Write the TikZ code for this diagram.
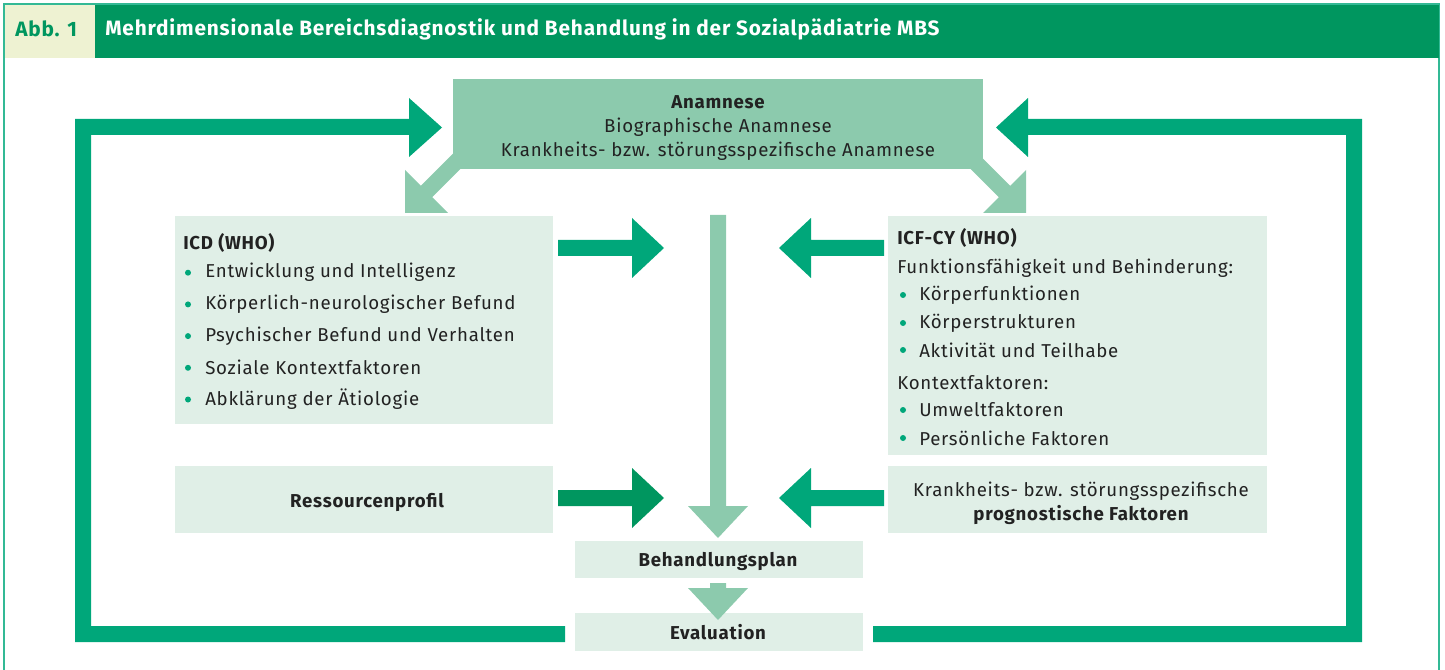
\documentclass[tikz,border=0pt]{standalone}
\usepackage{fontspec}
\setmainfont{Fira Sans}[LetterSpace=4]
\usepackage{xcolor}
\definecolor{mbsdark}{HTML}{00965F}
\definecolor{mbsgreen}{HTML}{00A77A}
\definecolor{mbslight}{HTML}{8CCAAD}
\definecolor{mbsbox}{HTML}{E0EFE7}
\definecolor{mbsabb}{HTML}{EEF2D2}
\definecolor{mbstext}{HTML}{222222}

\tikzset{
  box/.style={fill=mbsbox, inner sep=0pt, anchor=north west},
  txt/.style={inner sep=0pt, text=mbstext, font=\fontsize{14}{16}\selectfont},
  txtb/.style={txt, font=\fontsize{14}{16}\selectfont\bfseries},
  item/.style={txt, anchor=west},
  dot/.style={circle, fill=mbsgreen, inner sep=0pt, minimum size=4.5pt}
}

\begin{document}
\begin{tikzpicture}[x=0.75pt, y=-0.75pt]
  \useasboundingbox (0,0) rectangle (1445,670);

  % frame and title bar
  \draw[mbsgreen!80, line width=1.2pt] (4,670) -- (4,4) -- (1439,4) -- (1439,670);
  \fill[mbsdark] (5,5) rectangle (1439,58);
  \fill[mbsabb] (5,5) rectangle (95,58);
  \node[anchor=west, inner sep=0pt, text=mbsdark, font=\fontsize{15.6}{18}\selectfont\bfseries] (abb) at (15,29) {Abb. 1};
  \node[anchor=west, inner sep=0pt, text=white, font=\fontsize{15.6}{18}\selectfont\bfseries] (title) at (105,29)
    {Mehrdimensionale Bereichsdiagnostik und Behandlung in der Sozialpädiatrie MBS};

  % feedback loop, left
  \fill[mbsgreen] (565,642) -- (75,642) -- (75,119) -- (409,119) -- (409,98) -- (442,127.5)
    -- (409,157) -- (409,135) -- (91,135) -- (91,626) -- (565,626) -- cycle;
  % feedback loop, right
  \fill[mbsgreen] (873,642) -- (1362,642) -- (1362,119) -- (1028,119) -- (1028,98) -- (996,127.5)
    -- (1028,157) -- (1028,135) -- (1346,135) -- (1346,626) -- (873,626) -- cycle;

  % diagonal arrows out of the anamnesis
  \fill[mbslight] (405,213) -- (405,170) -- (420.8,185.8) -- (460.8,145.8) -- (472.2,157.2)
    -- (432.2,197.2) -- (448,213) -- cycle;
  \fill[mbslight] (1026,213) -- (1026,170) -- (1010.2,185.8) -- (970.2,145.8) -- (958.8,157.2)
    -- (998.8,197.2) -- (983,213) -- cycle;

  % Anamnese
  \node[box, fill=mbslight, minimum width=530*0.75pt, minimum height=90*0.75pt] (anam) at (453,79) {};
  \node[txtb] (anam1) at (718,102) {Anamnese};
  \node[txt] (anam2) at (718,127) {Biographische Anamnese};
  \node[txt] (anam3) at (718,151) {Krankheits- bzw. störungsspezifische Anamnese};

  % ICD
  \node[box, minimum width=378*0.75pt, minimum height=208*0.75pt] (icd) at (175,216) {};
  \node[txtb, anchor=west] (icdh) at (183,243) {ICD (WHO)};
  \foreach \t [count=\i] in {Entwicklung und Intelligenz, Körperlich-neurologischer Befund,
      Psychischer Befund und Verhalten, Soziale Kontextfaktoren, Abklärung der Ätiologie}{
    \node[dot] (icdd\i) at (188,241+31.7*\i) {};
    \node[item] (icdt\i) at (205,241+31.7*\i) {\t};
  }

  % ICF-CY
  \node[box, minimum width=379*0.75pt, minimum height=239*0.75pt] (icf) at (888,216) {};
  \node[txtb, anchor=west] (icfh) at (897,238) {ICF-CY (WHO)};
  \node[item] (icfa) at (897,268) {Funktionsfähigkeit und Behinderung:};
  \foreach \t/\y [count=\i] in {Körperfunktionen/295, Körperstrukturen/323, Aktivität und Teilhabe/350}{
    \node[dot] (icfd\i) at (903,\y) {};
    \node[item] (icft\i) at (919,\y) {\t};
  }
  \node[item] (icfb) at (897,383) {Kontextfaktoren:};
  \foreach \t/\y [count=\i from 4] in {Umweltfaktoren/410, Persönliche Faktoren/438}{
    \node[dot] (icfd\i) at (903,\y) {};
    \node[item] (icft\i) at (919,\y) {\t};
  }

  % Ressourcen / Prognose
  \node[box, minimum width=378*0.75pt, minimum height=67*0.75pt] (res) at (175,466) {};
  \node[txtb] (rest) at (367,502) {Ressourcenprofil};
  \node[box, minimum width=379*0.75pt, minimum height=67*0.75pt] (prog) at (888,466) {};
  \node[txt] (prog1) at (1081,491) {Krankheits- bzw. störungsspezifische};
  \node[txtb] (prog2) at (1081,515) {prognostische Faktoren};

  % Behandlungsplan, Evaluation
  \node[box, minimum width=288*0.75pt, minimum height=37*0.75pt] (plan) at (575,541) {};
  \node[txtb] (plant) at (718,561) {Behandlungsplan};
  \node[box, minimum width=288*0.75pt, minimum height=38*0.75pt] (eval) at (575,613) {};
  \node[txtb] (evalt) at (718,632) {Evaluation};

  % horizontal arrows towards the centre
  \fill[mbsgreen] (558,240) -- (632,240) -- (632,218) -- (664,248) -- (632,278) -- (632,256) -- (558,256) -- cycle;
  \fill[mbsgreen] (884,240) -- (811,240) -- (811,218) -- (779,248) -- (811,278) -- (811,256) -- (884,256) -- cycle;
  \fill[mbsdark] (558,490) -- (632,490) -- (632,468) -- (664,498) -- (632,528) -- (632,506) -- (558,506) -- cycle;
  \fill[mbsgreen] (884,490) -- (811,490) -- (811,468) -- (779,498) -- (811,528) -- (811,506) -- (884,506) -- cycle;

  % vertical arrows
  \fill[mbslight] (710,215) -- (726,215) -- (726,506) -- (748,506) -- (718,538) -- (688,506) -- (710,506) -- cycle;
  \fill[mbslight] (710,583) -- (726,583) -- (726,588) -- (748,588) -- (718,620) -- (688,588) -- (710,588) -- cycle;
\end{tikzpicture}
\end{document}
